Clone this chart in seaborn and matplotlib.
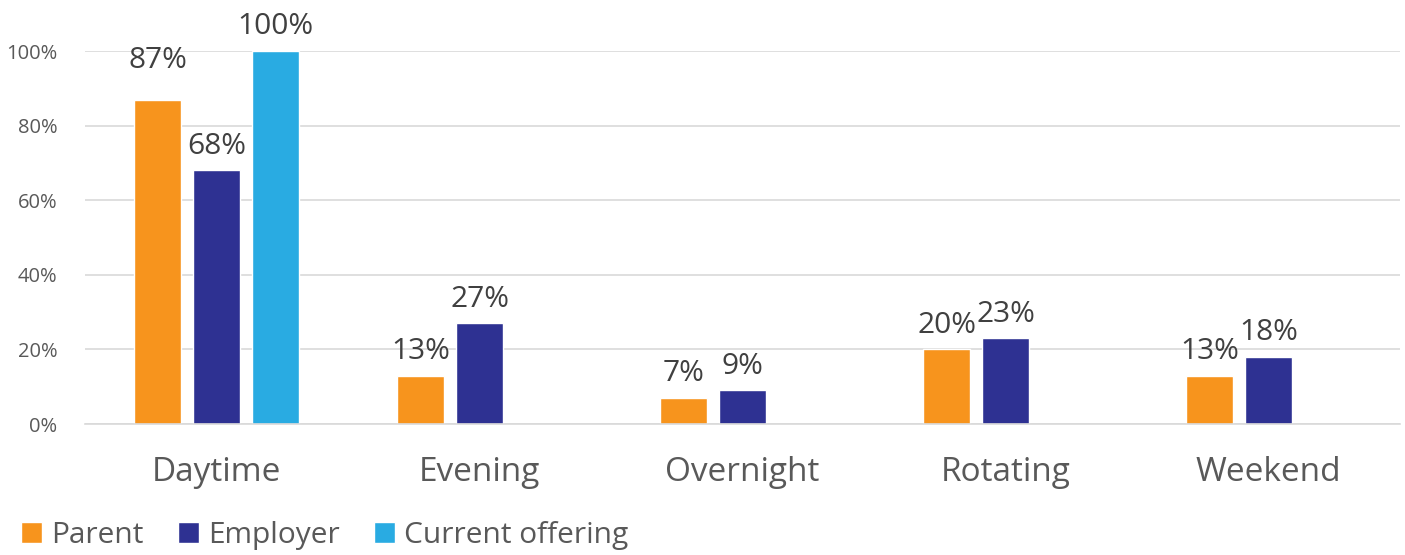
import numpy as np
import pandas as pd
import matplotlib
matplotlib.use("Agg")
import matplotlib.pyplot as plt
import seaborn as sns
from matplotlib.ticker import PercentFormatter

# data
shifts = ["Daytime", "Evening", "Overnight", "Rotating", "Weekend"]
parent = [87, 13, 7, 20, 13]
employer = [68, 27, 9, 23, 18]
current = [100, np.nan, np.nan, np.nan, np.nan]
series = ["Parent", "Employer", "Current offering"]
colors = ["#F7941D", "#2E3192", "#29ABE2"]

df = pd.DataFrame({
    "Shift": shifts * 3,
    "Group": [series[0]] * 5 + [series[1]] * 5 + [series[2]] * 5,
    "Value": parent + employer + current,
})

sns.set_style("white")
plt.rcParams["font.family"] = ["Open Sans", "DejaVu Sans"]

fig = plt.figure(figsize=(14.05, 5.55), dpi=100)
ax = fig.add_axes([0.0605, 0.236, 0.936, 0.672])

sns.barplot(data=df, x="Shift", y="Value", hue="Group", hue_order=series,
            palette=colors, width=0.67, gap=0.2, ax=ax, legend=True,
            saturation=1)

# value labels above bars
for i, cont in enumerate(ax.containers):
    labels = ["" if np.isnan(v) else f"{v:.0f}%" for v in cont.datavalues]
    anns = ax.bar_label(cont, labels=labels, padding=7, fontsize=21.5,
                        color="#404040", clip_on=False)
    if i == 0:
        # the 87% label sits higher in the original
        anns[0].xyann = (0, 18)

ax.set_ylim(0, 100)
ax.set_xlim(-0.5, 4.5)
ax.set_yticks([0, 20, 40, 60, 80, 100])
ax.yaxis.set_major_formatter(PercentFormatter(decimals=0))
ax.grid(axis="y", color="#D9D9D9", linewidth=1.2)
ax.set_axisbelow(True)
for s in ["top", "right", "left"]:
    ax.spines[s].set_visible(False)
ax.spines["bottom"].set_color("#D9D9D9")
ax.spines["bottom"].set_linewidth(1.2)
ax.tick_params(axis="y", labelsize=14.5, labelcolor="#595959", length=0, pad=20)
ax.tick_params(axis="x", labelsize=24, labelcolor="#595959", length=0, pad=23)
ax.set_xlabel("")
ax.set_ylabel("")

handles, labs = ax.get_legend_handles_labels()
ax.get_legend().remove()
fig.legend(handles, labs, loc="lower left", bbox_to_anchor=(-0.004, -0.04),
           ncol=3, frameon=False, fontsize=21.5, labelcolor="#595959",
           handlelength=0.7, handleheight=0.7, handletextpad=0.3,
           columnspacing=1.15)

fig.savefig("out.png", dpi=100)
